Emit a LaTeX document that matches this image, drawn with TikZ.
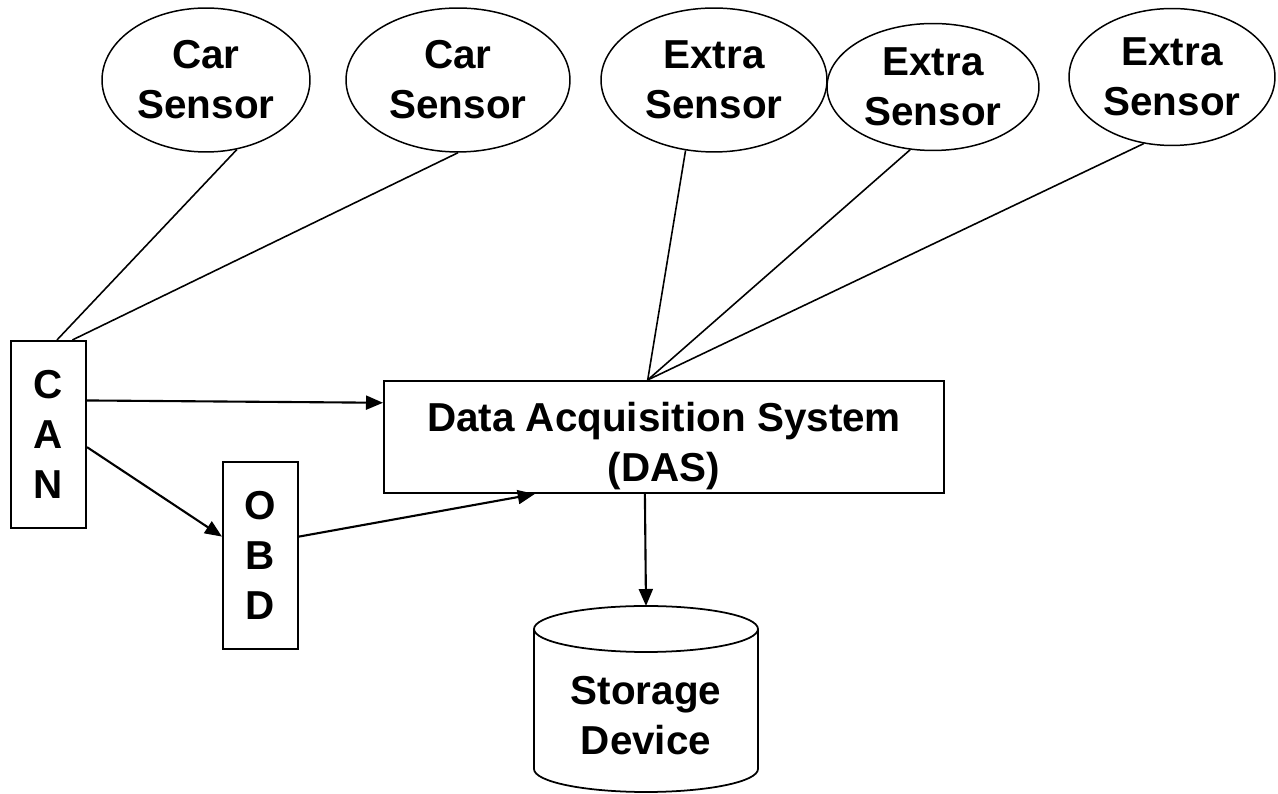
\documentclass[tikz,border=0pt]{standalone}
\usepackage{fontspec}
\setmainfont{Liberation Sans}
\usetikzlibrary{calc,arrows.meta,shapes.geometric}
\begin{document}
\begin{tikzpicture}[x=0.02cm,y=0.02cm,
    txt/.style={font=\fontsize{23pt}{28.5pt}\selectfont\bfseries,align=center},
    sensor/.style={ellipse,draw,line width=0.85pt,inner sep=0pt,txt},
    box/.style={rectangle,draw,line width=1.2pt,inner sep=0pt,txt},
    wire/.style={line width=0.9pt},
    link/.style={line width=1.2pt,-{Triangle[length=0.34cm,width=0.28cm]}}]
    \useasboundingbox (0,0) rectangle (1278,794);
    % sensors on top
    \node[sensor,minimum width=4.16cm,minimum height=2.88cm] (car1) at (206,714) {Car\\Sensor};
    \node[sensor,minimum width=4.48cm,minimum height=2.88cm] (car2) at (458,714) {Car\\Sensor};
    \node[sensor,minimum width=4.52cm,minimum height=2.88cm] (extra1) at (714,714) {Extra\\Sensor};
    \node[sensor,minimum width=4.24cm,minimum height=2.54cm] (extra2) at (933,707) {Extra\\Sensor};
    \node[sensor,minimum width=4.12cm,minimum height=2.74cm] (extra3) at (1172,717) {Extra\\Sensor};
    % bus and system boxes
    \node[box,minimum width=1.5cm,minimum height=3.74cm] (can) at (48.5,359.5) {C\\A\\N};
    \node[box,minimum width=1.5cm,minimum height=3.74cm] (obd) at (260.5,238.5) {O\\B\\D};
    \node[box,minimum width=11.2cm,minimum height=2.24cm] (das) at (664,357) {};
    \node[txt] (dastxt) at ([yshift=-0.19cm]das.center) {Data Acquisition System\\(DAS)};
    % storage cylinder
    \draw[line width=1pt] (534,165) -- (534,25)
        arc[start angle=180,end angle=360,x radius=112,y radius=23] -- (758,165);
    \draw[line width=1pt] (646,165) ellipse[x radius=112,y radius=23];
    \node[txt] (store) at (646,78) {Storage\\Device};
    \coordinate (storetop) at (646,188);
    \coordinate (hub) at ($(das.north west)!0.471!(das.north east)$); % sensor wires meet
    \coordinate (dasout) at ($(das.south west)!0.466!(das.south east)$);
    % sensor wires
    \draw[wire] (car1.-66) -- ($(can.north west)!0.61!(can.north east)$);
    \draw[wire] (car2.south) -- ($(can.north west)!0.81!(can.north east)$);
    \draw[wire] (extra1.-112.5) -- (hub);
    \draw[wire] (extra2.-110) -- (hub);
    \draw[wire] (extra3.-113) -- (hub);
    % data flow
    \draw[link] ($(can.north east)!0.32!(can.south east)$) -- ($(das.north west)!0.2!(das.south west)$);
    \draw[link] ($(can.north east)!0.567!(can.south east)$) -- ($(obd.north west)!0.4!(obd.south west)$);
    \draw[link] ($(obd.north east)!0.4!(obd.south east)$) -- ($(das.south west)!0.27!(das.south east)$);
    \draw[link] (dasout) -- (storetop); % to storage
\end{tikzpicture}
\end{document}
